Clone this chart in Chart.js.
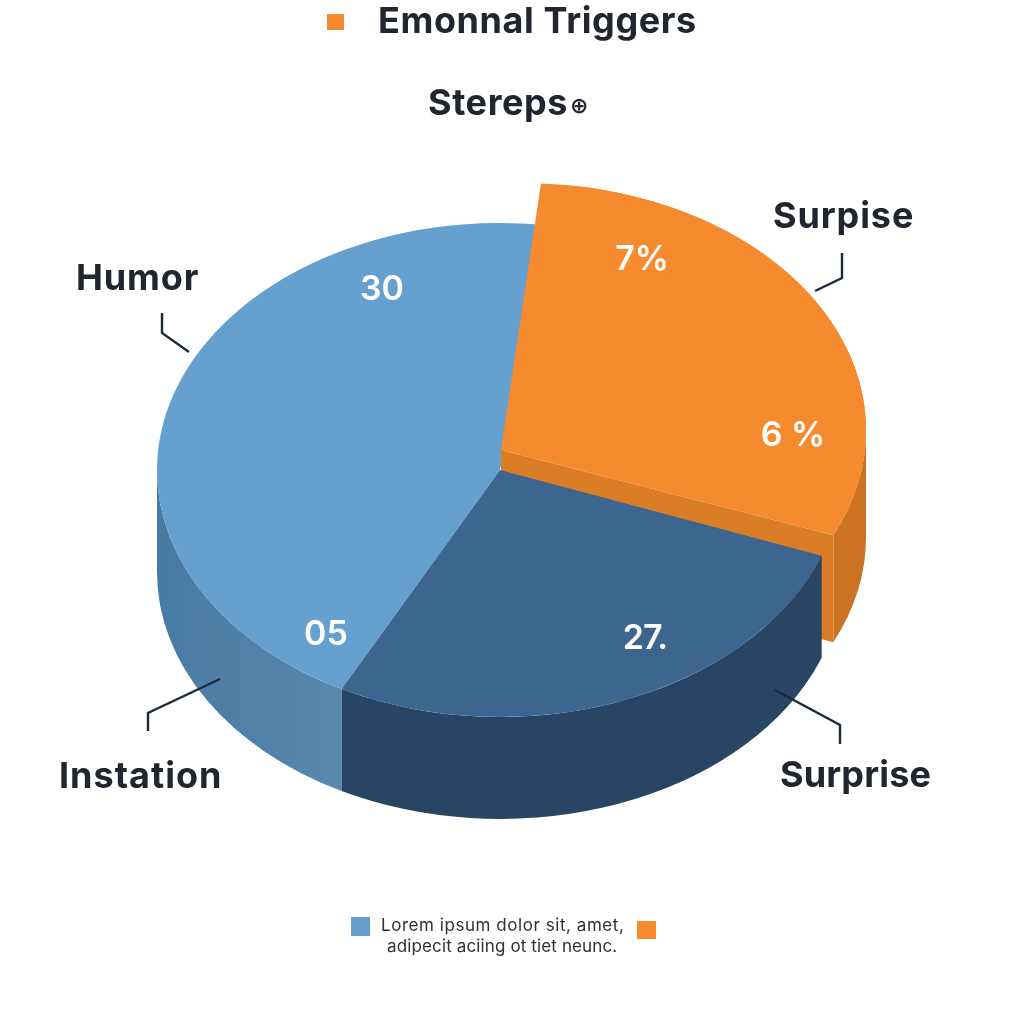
<!DOCTYPE html>
<html>
<head>
<meta charset="utf-8">
<style>
  html, body { margin: 0; padding: 0; background: #fff; }
  canvas { display: block; }
</style>
<script src="https://cdn.jsdelivr.net/npm/chart.js@4/dist/chart.umd.min.js"></script>
</head>
<body>
<canvas id="pie" width="1024" height="1024"></canvas>
<script>
// values (slice sizes, in percent)
const categories = ['Surpise', 'Surprise', 'Humor'];
const seriesValues = [28, 27, 45];
const legendTitle = 'Emonnal Triggers';
const subTitle = 'Stereps';
const sliceTexts = ['7%', '6 %', '27.', '30', '05'];
const outerTexts = ['Surpise', 'Humor', 'Instation', 'Surprise'];
const footnote = ['Lorem ipsum dolor sit, amet,', 'adipecit aciing ot tiet neunc.'];

const colors = {
    orange: '#f68a2e', orangeCut: '#d97d26', orangeWall: '#cb7322',
    blue: '#65a0ce', blueWallA: '#477aa3', blueWallB: '#5a88ae',
    navy: '#3c6590', navyWall: '#2a4464',
    ink: '#20252e', line: '#1d2a3a'
};

// look of the tilted pie
const squash = 0.72;
const depth = 102;
const orangeDepth = 107;
const orangeShift = { x: 23, y: -40 };   // where the pulled out slice's rim sits
const orangeApex = { x: 1, y: -20 };
const orangeAngleNudge = { start: -6.5 * Math.PI / 180, end: 4.9 * Math.PI / 180 };

function wallPath(ctx, cx, cy, rx, ry, a0, a1, h) {
    ctx.beginPath();
    ctx.ellipse(cx, cy, rx, ry, 0, a0, a1);
    ctx.lineTo(cx + rx * Math.cos(a1), cy + ry * Math.sin(a1) + h);
    ctx.ellipse(cx, cy + h, rx, ry, 0, a1, a0, true);
    ctx.closePath();
}

const tiltedPie = {
    id: 'tiltedPie',
    beforeDatasetDraw(chart, args) {
        const ctx = chart.ctx;
        const arcs = args.meta.data;
        const orange = arcs[0], navy = arcs[1], blue = arcs[2];
        const { x: cx, y: cy, outerRadius: rx } = navy.getProps(['x', 'y', 'outerRadius'], true);
        const ry = rx * squash;

        const drawTop = (arc, dx, dy) => {
            ctx.save();
            ctx.translate(cx + dx, cy + dy);
            ctx.scale(1, squash);
            ctx.translate(-cx, -cy);
            arc.draw(ctx);
            ctx.restore();
        };

        // blue slice: wall then top
        const blueStart = blue.getProps(['startAngle'], true).startAngle;
        wallPath(ctx, cx, cy, rx, ry, blueStart, Math.PI, depth);
        const blueGrad = ctx.createLinearGradient(cx - rx, 0, cx - 160, 0);
        blueGrad.addColorStop(0, colors.blueWallA);
        blueGrad.addColorStop(1, colors.blueWallB);
        ctx.fillStyle = blueGrad;
        ctx.fill();
        drawTop(blue, 0, 0);

        // orange slice: rim wall, cut face, top
        const op = orange.getProps(['startAngle', 'endAngle'], true);
        const a0 = op.startAngle + orangeAngleNudge.start;
        const a1 = op.endAngle + orangeAngleNudge.end;
        const ox = cx + orangeShift.x, oy = cy + orangeShift.y;
        const ax = cx + orangeApex.x, ay = cy + orangeApex.y;
        const cornerX = ox + rx * Math.cos(a1), cornerY = oy + ry * Math.sin(a1);

        wallPath(ctx, ox, oy, rx, ry, 0, a1, orangeDepth);
        ctx.fillStyle = colors.orangeWall;
        ctx.fill();

        ctx.beginPath();
        ctx.moveTo(ax, ay);
        ctx.lineTo(cornerX, cornerY);
        ctx.lineTo(cornerX, cornerY + orangeDepth);
        ctx.lineTo(ax, ay + orangeDepth);
        ctx.closePath();
        ctx.fillStyle = colors.orangeCut;
        ctx.fill();

        drawTop(orange, orangeShift.x, orangeShift.y);
        ctx.beginPath();
        ctx.moveTo(ax, ay);
        ctx.lineTo(ox + rx * Math.cos(a0), oy + ry * Math.sin(a0));
        ctx.ellipse(ox, oy, rx, ry, 0, a0, a1);
        ctx.closePath();
        ctx.fillStyle = colors.orange;
        ctx.fill();

        // navy slice: wall then top
        const np = navy.getProps(['startAngle', 'endAngle'], true);
        wallPath(ctx, cx, cy, rx, ry, np.startAngle, np.endAngle, depth);
        ctx.fillStyle = colors.navyWall;
        ctx.fill();
        drawTop(navy, 0, 0);

        return false; // the default flat drawing is replaced
    },
    afterDraw(chart) {
        const ctx = chart.ctx;
        ctx.save();
        ctx.textBaseline = 'alphabetic';

        const put = (text, x, y, font, color, align, spacing) => {
            ctx.font = font;
            ctx.fillStyle = color;
            ctx.textAlign = align || 'left';
            ctx.letterSpacing = spacing || '0px';
            ctx.fillText(text, x, y);
        };

        // top legend
        ctx.fillStyle = colors.orange;
        ctx.fillRect(327, 14, 17, 16);
        const headFont = '700 36px Inter';
        put(legendTitle, 378, 33, headFont, colors.ink, 'left', '0.6px');
        put(subTitle, 428, 115, headFont, colors.ink, 'left', '0.6px');
        put('\u2295', 570, 113, '600 22px "DejaVu Sans"', colors.ink);

        // outer labels and their leader lines
        put(outerTexts[0], 773, 228, headFont, colors.ink, 'left', '0.9px');
        put(outerTexts[1], 76, 290, headFont, colors.ink, 'left', '0.9px');
        put(outerTexts[2], 59, 788, headFont, colors.ink, 'left', '1px');
        put(outerTexts[3], 780, 787, headFont, colors.ink, 'left', '0.15px');

        ctx.strokeStyle = colors.line;
        ctx.lineWidth = 2.4;
        [
            [[842, 253], [842, 278], [815, 291]],
            [[162, 313], [162, 333], [189, 352]],
            [[148, 731], [148, 713], [220, 679]],
            [[840, 744], [840, 725], [775, 690]]
        ].forEach(pts => {
            ctx.beginPath();
            pts.forEach((p, i) => i ? ctx.lineTo(p[0], p[1]) : ctx.moveTo(p[0], p[1]));
            ctx.stroke();
        });

        // texts on the slices
        const sliceFont = '600 34px Inter';
        put(sliceTexts[0], 642, 270, sliceFont, '#fff', 'center');
        put(sliceTexts[1], 793, 446, sliceFont, '#fff', 'center');
        put(sliceTexts[2], 645, 649, sliceFont, '#fff', 'center', '-1px');
        put(sliceTexts[3], 382, 300, sliceFont, '#fff', 'center');
        put(sliceTexts[4], 326, 645, sliceFont, '#fff', 'center');

        // bottom legend
        ctx.fillStyle = colors.blue;
        ctx.fillRect(351, 917, 19, 19);
        ctx.fillStyle = colors.orange;
        ctx.fillRect(637, 921, 19, 18);
        put(footnote[0], 381, 931, '400 17px Inter', '#2c3038', 'left', '0.55px');
        put(footnote[1], 387, 952, '400 17px Inter', '#2c3038', 'left', '0.13px');
        ctx.restore();
    }
};

new Chart(document.getElementById('pie'), {
    type: 'pie',
    data: {
        labels: categories,
        datasets: [{
            data: seriesValues,
            backgroundColor: [colors.orange, colors.navy, colors.blue],
            borderWidth: 0,
            clip: false
        }]
    },
    options: {
        responsive: false,
        animation: false,
        rotation: 9.5,
        layout: { padding: { left: 157, right: 181, top: 127, bottom: 211 } },
        plugins: { legend: { display: false }, tooltip: { enabled: false } }
    },
    plugins: [tiltedPie]
});
</script>
</body>
</html>
